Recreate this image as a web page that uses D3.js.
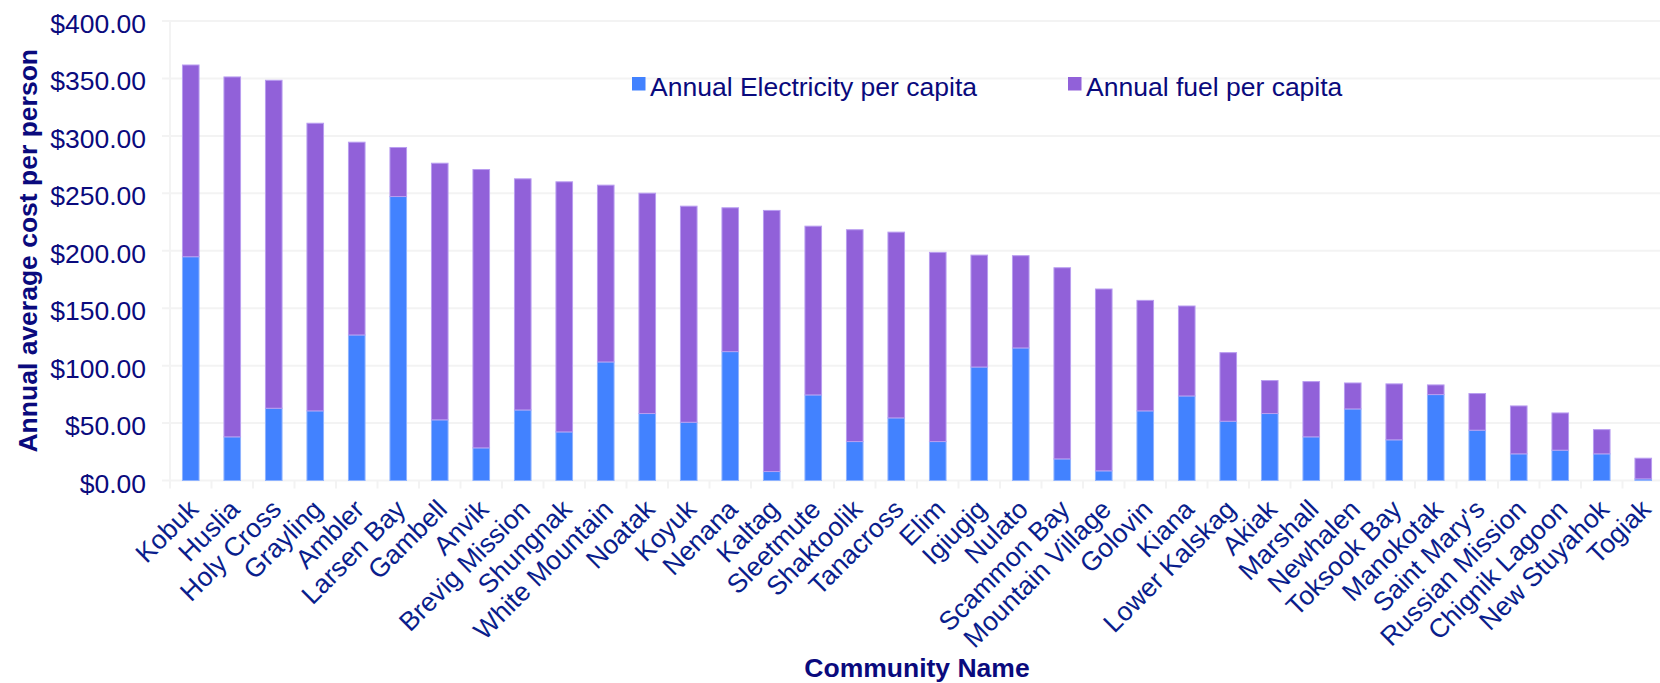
<!DOCTYPE html>
<html>
<head>
<meta charset="utf-8">
<script src="https://cdn.jsdelivr.net/npm/d3@7"></script>
<style>
  body { margin: 0; background: #fff; }
  text { font-family: "Liberation Sans", Arial, sans-serif; }
</style>
</head>
<body>
<svg id="chart" width="1660" height="683"></svg>
<script>
// values
const communities = ["Kobuk", "Huslia", "Holy Cross", "Grayling", "Ambler", "Larsen Bay", "Gambell", "Anvik",
  "Brevig Mission", "Shungnak", "White Mountain", "Noatak", "Koyuk", "Nenana", "Kaltag", "Sleetmute",
  "Shaktoolik", "Tanacross", "Elim", "Igiugig", "Nulato", "Scammon Bay", "Mountain Village", "Golovin",
  "Kiana", "Lower Kalskag", "Akiak", "Marshall", "Newhalen", "Toksook Bay", "Manokotak", "Saint Mary's",
  "Russian Mission", "Chignik Lagoon", "New Stuyahok", "Togiak"];

const electricity = [194.8, 38.0, 62.9, 60.6, 126.7, 247.2, 52.8, 28.4, 61.4, 42.3, 103.2, 58.3,
  50.7, 112.2, 7.8, 74.5, 33.9, 54.5, 33.9, 98.8, 115.4, 18.8, 8.4, 60.6,
  73.6, 51.6, 58.3, 38.0, 62.3, 35.4, 74.8, 43.8, 23.2, 26.4, 23.2, 1.4];

const fuel = [166.9, 313.3, 285.5, 250.4, 167.8, 42.7, 223.4, 242.3, 201.2, 217.7, 153.9, 191.8,
  188.1, 125.2, 227.3, 146.9, 184.4, 161.7, 164.7, 97.4, 80.3, 166.4, 158.3, 96.2,
  78.3, 59.7, 28.7, 48.1, 22.6, 48.7, 8.4, 31.9, 41.7, 32.4, 21.1, 18.0];

const seriesNames = ["Annual Electricity per capita", "Annual fuel per capita"];
const yTicks = [0, 50, 100, 150, 200, 250, 300, 350, 400];

const colors = ["#4282ff", "#9161d9"];
const strokes = ["#8fb3ff", "#b99df0"];
const navy = "#0a0a7d";

const svg = d3.select("#chart");
const plotLeft = 170, plotTop = 21, plotBottom = 480.5, step = 41.5;

const x = d3.scaleBand()
    .domain(communities)
    .range([plotLeft, plotLeft + step * communities.length])
    .padding(0);

const y = d3.scaleLinear()
    .domain([0, 400])
    .range([plotBottom, plotTop]);

// gridlines
svg.append("g")
    .selectAll("line")
    .data(yTicks)
    .join("line")
    .attr("x1", plotLeft - 8)
    .attr("x2", 1660)
    .attr("y1", d => y(d))
    .attr("y2", d => y(d))
    .attr("stroke", "#f3f3f3")
    .attr("stroke-width", 2);

// y axis line
svg.append("line")
    .attr("x1", plotLeft).attr("x2", plotLeft)
    .attr("y1", plotTop).attr("y2", plotBottom + 8)
    .attr("stroke", "#f3f3f3")
    .attr("stroke-width", 2);

// x ticks at band edges
svg.append("g")
    .selectAll("line")
    .data(communities)
    .join("line")
    .attr("x1", d => x(d) + step)
    .attr("x2", d => x(d) + step)
    .attr("y1", plotBottom)
    .attr("y2", plotBottom + 8)
    .attr("stroke", "#f3f3f3")
    .attr("stroke-width", 2);

// y tick labels
svg.append("g")
    .selectAll("text")
    .data(yTicks)
    .join("text")
    .attr("x", 146)
    .attr("y", d => y(d) + 12)
    .attr("text-anchor", "end")
    .attr("font-size", 26.5)
    .attr("fill", navy)
    .text(d => "$" + d3.format(".2f")(d));

// stacked bars
const rows = communities.map((c, i) => ({name: c, elec: electricity[i], fuel: fuel[i]}));
const stacked = d3.stack().keys(["elec", "fuel"])(rows);
const barW = step * 0.4;

svg.append("g")
    .selectAll("g")
    .data(stacked)
    .join("g")
    .attr("fill", (d, i) => colors[i])
    .attr("stroke", (d, i) => strokes[i])
    .attr("stroke-width", 1)
    .selectAll("rect")
    .data(d => d)
    .join("rect")
    .attr("x", d => x(d.data.name) + (step - barW) / 2)
    .attr("y", d => y(d[1]))
    .attr("width", barW)
    .attr("height", d => y(d[0]) - y(d[1]));

// x labels, rotated
svg.append("g")
    .selectAll("text")
    .data(communities)
    .join("text")
    .attr("transform", d => `translate(${x(d) + step / 2 + 9},511) rotate(-45)`)
    .attr("text-anchor", "end")
    .attr("font-size", 26.5)
    .attr("fill", "#0a1e8c")
    .text(d => d);

// axis titles
svg.append("text")
    .attr("transform", `translate(37,${(plotTop + plotBottom) / 2}) rotate(-90)`)
    .attr("text-anchor", "middle")
    .attr("font-size", 26.5)
    .attr("font-weight", "bold")
    .attr("fill", navy)
    .text("Annual average cost per person");

svg.append("text")
    .attr("x", 917)
    .attr("y", 677)
    .attr("text-anchor", "middle")
    .attr("font-size", 26.5)
    .attr("font-weight", "bold")
    .attr("fill", navy)
    .text("Community Name");

// legend
const legendX = [632, 1068];
const legend = svg.append("g")
    .selectAll("g")
    .data(seriesNames)
    .join("g")
    .attr("transform", (d, i) => `translate(${legendX[i]},77)`);

legend.append("rect")
    .attr("width", 13.5)
    .attr("height", 13.5)
    .attr("fill", (d, i) => colors[i]);

legend.append("text")
    .attr("x", 18)
    .attr("y", 19)
    .attr("font-size", 26.5)
    .attr("fill", navy)
    .text(d => d);
</script>
</body>
</html>
